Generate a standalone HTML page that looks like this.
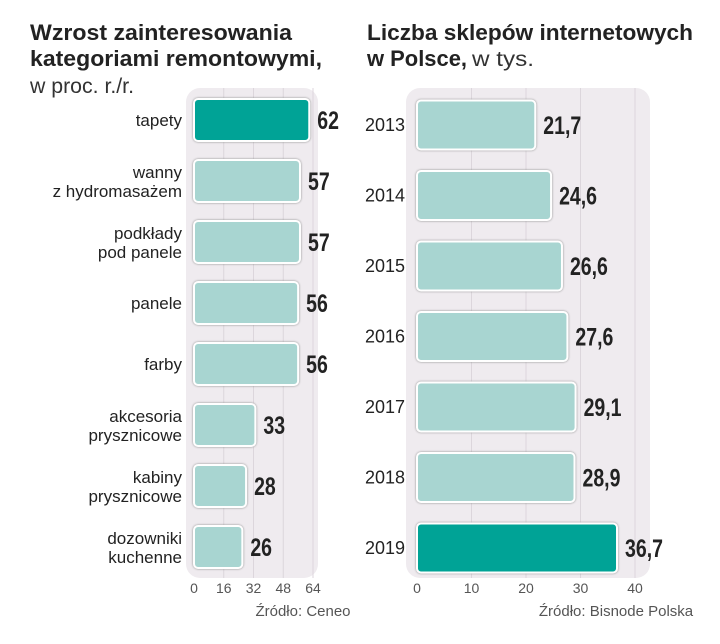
<!DOCTYPE html>
<html><head><meta charset="utf-8"><style>
body{margin:0;width:720px;height:639px;background:#fff;overflow:hidden;font-family:"Liberation Sans",sans-serif;color:#222}
svg text{font-family:"Liberation Sans",sans-serif}
.t{font-weight:bold;font-size:22px;fill:#222}
.sub{font-size:21px;fill:#333;font-weight:normal}
.lab{font-size:17px;fill:#222}
.yr{font-size:18px;fill:#222}
.val{font-weight:bold;font-size:25px;fill:#222}
.tick{font-size:14px;fill:#555}
</style></head><body>
<svg id="c" width="720" height="639">
<text class="t" x="30" y="40" textLength="262" lengthAdjust="spacingAndGlyphs">Wzrost zainteresowania</text>
<text class="t" x="30" y="66" textLength="292" lengthAdjust="spacingAndGlyphs">kategoriami remontowymi,</text>
<text class="sub" x="30" y="93" textLength="104" lengthAdjust="spacingAndGlyphs">w proc. r./r.</text>
<text class="t" x="367" y="40" textLength="326" lengthAdjust="spacingAndGlyphs">Liczba sklepów internetowych</text>
<text class="t" x="367" y="66" textLength="100" lengthAdjust="spacingAndGlyphs">w Polsce,</text>
<text class="sub" x="472" y="66" textLength="62" lengthAdjust="spacingAndGlyphs">w tys.</text>
<rect x="186" y="88" width="132" height="490" rx="14" fill="#efebef"/>
<rect x="406" y="88" width="244" height="490" rx="14" fill="#efebef"/>
<g id="L"></g><g id="R"></g>
<text class="tick" x="303" y="616" text-anchor="middle" style="font-size:15px">Źródło: Ceneo</text>
<text class="tick" x="616" y="616" text-anchor="middle" style="font-size:15px">Źródło: Bisnode Polska</text>
</svg>
<script>
const leftCats=[["tapety"],["wanny","z hydromasażem"],["podkłady","pod panele"],["panele"],["farby"],["akcesoria","prysznicowe"],["kabiny","prysznicowe"],["dozowniki","kuchenne"]];
const leftVals=[62,57,57,56,56,33,28,26];
const leftTicks=[0,16,32,48,64];
const rightCats=["2013","2014","2015","2016","2017","2018","2019"];
const rightVals=[21.7,24.6,26.6,27.6,29.1,28.9,36.7];
const rightLabels=["21,7","24,6","26,6","27,6","29,1","28,9","36,7"];
const rightTicks=[0,10,20,30,40];
const NS="http://www.w3.org/2000/svg";
function mk(p,t,a,txt){const e=document.createElementNS(NS,t);for(const k in a)e.setAttribute(k,a[k]);if(txt!==undefined)e.textContent=txt;p.appendChild(e);return e;}
function chart(g,cats,vals,labels,ticks,x0,x1,max,y0,step,bh,hi,prefix,labCls){
  const xs=v=>x0+(x1-x0)*v/max;
  ticks.forEach((t,i)=>{
    if(i>0){const l=mk(g,"line",{x1:xs(t),x2:xs(t),y1:88,y2:578,stroke:"#dcd6dc","stroke-width":1});
    
    }
    const tx=mk(g,"text",{x:xs(t),y:593,"text-anchor":"middle",class:"tick"},String(t));
    
    
  });
  vals.forEach((v,i)=>{
    const cy=y0+i*step;
    const r=mk(g,"rect",{x:x0,y:cy-bh/2,width:xs(v)-x0,height:bh,rx:4,fill:i===hi?"#00a396":"#a8d5d1",stroke:"#fff","stroke-width":2,style:"filter:drop-shadow(0 0 1px #888)"});
    
    
    const vt=mk(g,"text",{x:0,y:0,class:"val",transform:"translate("+(xs(v)+8)+","+(cy+9)+") scale(0.78,1)"},labels[i]);
    
    
    const c=Array.isArray(cats[i])?cats[i]:[cats[i]];
    const lt=mk(g,"text",{x:x0-12,y:cy+6-(c.length-1)*9,"text-anchor":"end",class:labCls});
    
    
    c.forEach((s,j)=>mk(lt,"tspan",{x:x0-12,dy:j?19:0},s));
  });
}
chart(document.getElementById("L"),leftCats,leftVals,leftVals.map(String),leftTicks,194,313,64,120,61,42,0,"left","lab");
chart(document.getElementById("R"),rightCats,rightVals,rightLabels,rightTicks,417,635,40,125,70.5,49,6,"right","yr");
</script>
</body></html>
